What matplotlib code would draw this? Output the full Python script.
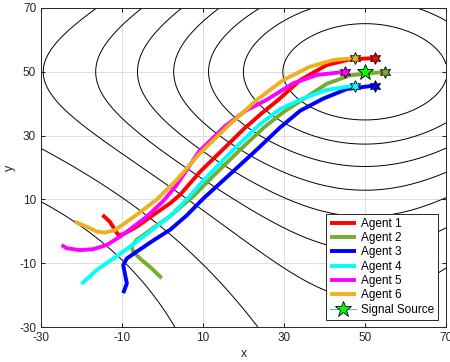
import numpy as np
import matplotlib.pyplot as plt

plt.rcParams['font.family'] = ['Liberation Sans', 'DejaVu Sans']
plt.rcParams['axes.unicode_minus'] = False

# ---------------------------------------------------------------------------
# DATA
# ---------------------------------------------------------------------------

# signal field around the source at (50, 50)
source_x = [50]
source_y = [50]
field_x_scale = 5000.0
field_y_scale = 2700.0
field_y_tail = 1.7
contour_levels = [0.870, 1.096, 1.283, 1.413, 1.532, 1.640, 1.742, 1.835, 1.921]

agent1_x = [-14.8, -13.0, -11.7, -10.9, -9.7, -6.4, -2.3, 1.9, 4.3, 9.3, 14.0, 20.0, 24.5, 28.6, 34.0, 40.5, 46.3, 52.5]
agent1_y = [5.1, 3.0, 0.4, -1.2, -0.9, 1.4, 5.1, 8.8, 11.4, 18.7, 24.5, 32.0, 37.0, 41.2, 47.4, 52.1, 53.9, 54.3]

agent2_x = [-0.2, -2.7, -5.6, -7.2, -7.6, -6.4, -3.1, 1.9, 7.6, 12.5, 19.1, 25.0, 30.0, 34.5, 40.5, 46.3, 55.0]
agent2_y = [-14.7, -11.6, -8.5, -6.4, -4.8, -2.7, 0.3, 4.8, 11.0, 17.3, 25.5, 32.5, 37.5, 41.2, 46.2, 48.9, 50.0]

agent3_x = [-9.7, -8.8, -9.3, -9.7, -8.8, -6.4, -2.3, 1.9, 6.0, 10.1, 15.9, 23.2, 29.0, 34.0, 39.7, 45.5, 52.5]
agent3_y = [-19.4, -16.3, -13.2, -10.6, -8.5, -6.4, -2.9, 0.5, 5.0, 10.3, 17.0, 25.5, 32.5, 37.8, 41.6, 44.6, 45.7]

agent4_x = [-20.0, -16.2, -12.1, -8.0, -3.1, 1.9, 6.0, 10.0, 17.4, 24.0, 29.0, 34.8, 40.5, 47.5]
agent4_y = [-16.5, -12.1, -8.5, -4.8, -0.1, 4.8, 10.0, 15.8, 25.5, 33.5, 38.3, 41.7, 44.3, 45.7]

agent5_x = [-24.9, -23.7, -20.4, -17.1, -13.8, -10.5, -7.2, -3.9, 0.2, 3.5, 9.0, 15.5, 20.5, 25.7, 32.3, 38.1, 45.0]
agent5_y = [-4.3, -5.3, -5.9, -5.6, -4.3, -1.7, 1.4, 4.6, 9.5, 14.5, 25.0, 33.0, 37.8, 41.2, 46.4, 49.0, 50.0]

agent6_x = [-21.6, -18.7, -16.2, -14.2, -11.7, -8.8, -5.6, -1.4, 3.5, 9.3, 16.0, 23.3, 29.8, 36.4, 42.2, 47.5]
agent6_y = [3.0, 1.4, -0.1, -0.4, 0.4, 3.0, 5.9, 10.0, 16.1, 24.5, 32.8, 41.2, 47.4, 51.6, 53.7, 54.3]

agent_labels = ["Agent 1", "Agent 2", "Agent 3", "Agent 4", "Agent 5", "Agent 6"]
agent_colors = ["#ff0000", "#77ac30", "#0000ff", "#00ffff", "#ff00ff", "#edb120"]

ticks = [-30, -10, 10, 30, 50, 70]

# ---------------------------------------------------------------------------
# PLOT
# ---------------------------------------------------------------------------

fig = plt.figure(figsize=(4.5, 3.62), dpi=100)
ax = fig.add_axes([41 / 450, 35 / 362, 405 / 450, 319 / 362])

gx = np.linspace(-30, 70, 401)
gy = np.linspace(-30, 70, 401)
GX, GY = np.meshgrid(gx, gy)
U = GX - source_x[0]
V = GY - source_y[0]
field = np.exp(-U ** 2 / field_x_scale) + \
    (1 + V ** 2 / (field_y_tail * field_y_scale)) ** (-field_y_tail)
ax.contour(GX, GY, field, levels=contour_levels, colors="black", linewidths=0.7)

agents_x = [agent1_x, agent2_x, agent3_x, agent4_x, agent5_x, agent6_x]
agents_y = [agent1_y, agent2_y, agent3_y, agent4_y, agent5_y, agent6_y]
for xs, ys, col, lab in zip(agents_x, agents_y, agent_colors, agent_labels):
    ax.plot(xs, ys, color=col, lw=2.8, label=lab, solid_capstyle="butt")
for xs, ys, col in zip(agents_x, agents_y, agent_colors):
    ax.plot(xs[-1], ys[-1], marker=(6, 1, 0), ms=8.5, mfc=col, mec="black",
            mew=0.6, ls="none")

ax.plot(source_x, source_y, color="#4dbeee", lw=0.8, marker="*", ms=12,
        mfc="#00ff00", mec="black", mew=0.6, label="Signal Source")

ax.set_xlim(-30, 70)
ax.set_ylim(-30, 70)
ax.set_xticks(ticks)
ax.set_yticks(ticks)
ax.grid(True, color="#dcdcdc", lw=0.7)
ax.set_axisbelow(True)
ax.tick_params(direction="in", length=3, labelsize=8.5, colors="#262626",
               top=True, right=True)
for s in ax.spines.values():
    s.set_color("#262626")
    s.set_linewidth(0.7)
ax.set_xlabel("x", fontsize=9, color="#262626", va="center")
ax.set_ylabel("y", fontsize=9, color="#262626", va="center")
ax.xaxis.set_label_coords(0.5, -0.085)
ax.yaxis.set_label_coords(-0.077, 0.5)

leg = ax.legend(loc="lower right", bbox_to_anchor=(0.98, 0.022), borderaxespad=0,
                fontsize=8.5, handlelength=2.2, labelspacing=0.2,
                handletextpad=0.4, borderpad=0.35, fancybox=False, framealpha=1)
leg.get_frame().set_edgecolor("#262626")
leg.get_frame().set_linewidth(0.7)

fig.savefig("out.png", dpi=100)
